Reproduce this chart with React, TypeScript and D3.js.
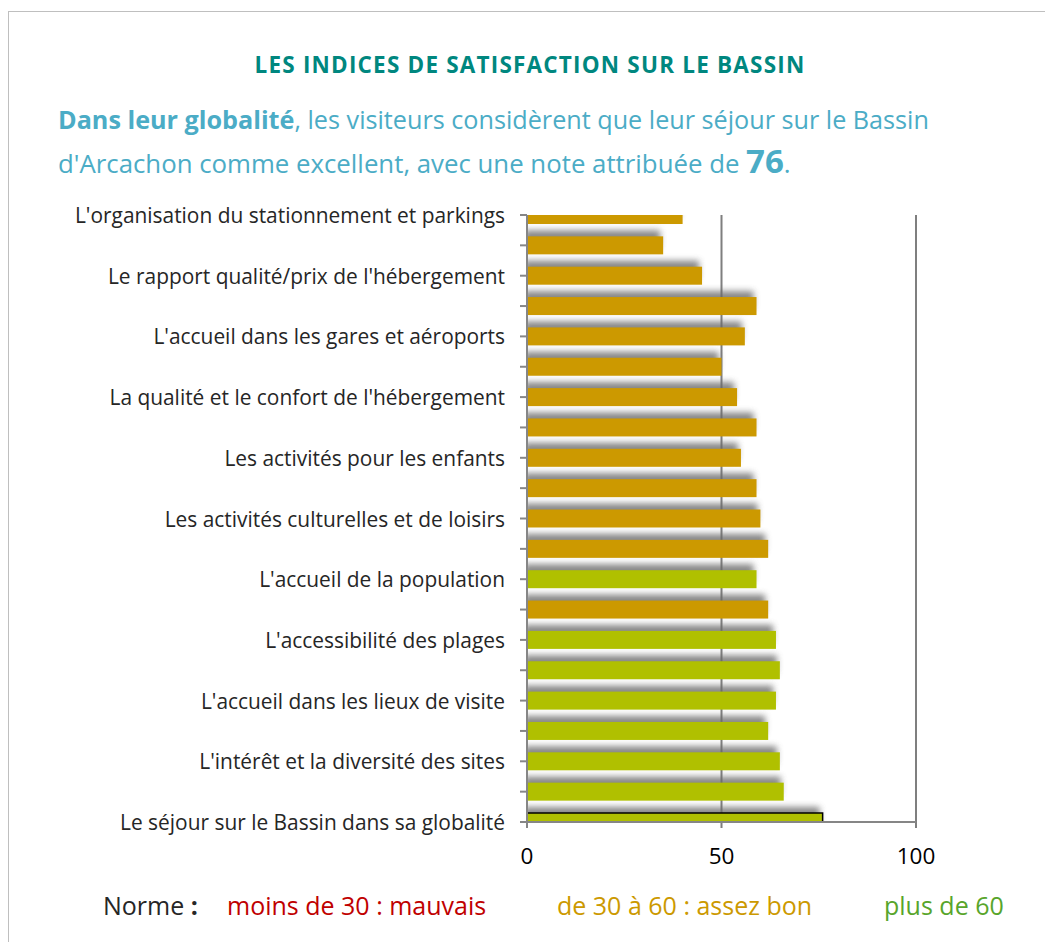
import React from "react";
import * as d3 from "d3";

const CATEGORIES = [
  "L'organisation du stationnement et parkings",
  "",
  "Le rapport qualité/prix de l'hébergement",
  "",
  "L'accueil dans les gares et aéroports",
  "",
  "La qualité et le confort de l'hébergement",
  "",
  "Les activités pour les enfants",
  "",
  "Les activités culturelles et de loisirs",
  "",
  "L'accueil de la population",
  "",
  "L'accessibilité des plages",
  "",
  "L'accueil dans les lieux de visite",
  "",
  "L'intérêt et la diversité des sites",
  "",
  "Le séjour sur le Bassin dans sa globalité",
];
const VALUES = [40, 35, 45, 59, 56, 50, 54, 59, 55, 59, 60, 62, 59, 62, 64, 65, 64, 62, 65, 66, 76];
const LEVELS = [
  "moyen", "moyen", "moyen", "moyen", "moyen", "moyen", "moyen", "moyen", "moyen", "moyen", "moyen", "moyen",
  "bon", "moyen", "bon", "bon", "bon", "bon", "bon", "bon", "bon",
];
const X_TICKS = [0, 50, 100];
const LEGEND = [
  { text: "moins de 30 : mauvais", level: "mauvais" },
  { text: "de 30 à 60 : assez bon", level: "moyen" },
  { text: "plus de 60", level: "bon" },
];

const BAR_COLORS: Record<string, string> = { moyen: "#CC9900", bon: "#B0C000" };
const LEGEND_COLORS: Record<string, string> = { mauvais: "#C00000", moyen: "#CC9900", bon: "#58A52B" };
const FONT = "'Open Sans', Lato, sans-serif";

export default function App() {
  const x = d3.scaleLinear().domain([0, 100]).range([527, 916]);
  const idx = CATEGORIES.map((_, i) => String(i));
  const y = d3.scalePoint<string>().domain(idx).range([215, 822]);
  const barH = 18;
  const top = 215;
  const bottom = 822;
  const legendX = [227, 557, 884];

  return (
    <svg
      width={1045}
      height={942}
      style={{ position: "absolute", left: 0, top: 0, display: "block" }}
      fontFamily={FONT}
    >
      <defs>
        <clipPath id="plotClip">
          <rect x={x(0)} y={top} width={x(100) - x(0) + 2} height={bottom - top} />
        </clipPath>
        <filter id="blur" x="-20%" y="-100%" width="140%" height="300%">
          <feGaussianBlur stdDeviation={3} />
        </filter>
      </defs>
      <rect x={8.5} y={11.5} width={1100} height={1000} fill="#fff" stroke="#BFBFBF" strokeWidth={1} />

      <text x={530} y={73} textAnchor="middle" fontSize={22.5} fontWeight="bold" letterSpacing={1.2} fill="#00877F">
        LES INDICES DE SATISFACTION SUR LE BASSIN
      </text>

      <text x={58} y={129} fontSize={25.2} fill="#4BACC6">
        <tspan fontWeight="bold">Dans leur globalité</tspan>
        <tspan>, les visiteurs considèrent que leur séjour sur le Bassin</tspan>
      </text>
      <text x={58} y={173} fontSize={25.8} fill="#4BACC6">
        <tspan>d'Arcachon comme excellent, avec une note attribuée de </tspan>
        <tspan fontWeight="bold" fontSize={33}>76</tspan>
        <tspan>.</tspan>
      </text>

      {/* gridlines */}
      {X_TICKS.filter((t) => t > 0).map((t) => (
        <line key={t} x1={x(t)} x2={x(t)} y1={top} y2={bottom + 6} stroke="#7F7F7F" strokeWidth={2} />
      ))}

      <g clipPath="url(#plotClip)">
        <g filter="url(#blur)" opacity={0.8}>
          {VALUES.map((v, i) => (
            <rect
              key={i}
              x={x(0) - 3}
              y={(y(String(i)) as number) - barH / 2 - 6}
              width={x(v) - x(0)}
              height={barH}
              fill="#6A6A6A"
            />
          ))}
        </g>
        {VALUES.map((v, i) => (
          <rect
            key={i}
            x={x(0)}
            y={(y(String(i)) as number) - barH / 2}
            width={x(v) - x(0)}
            height={barH}
            fill={BAR_COLORS[LEVELS[i]]}
            stroke={i === VALUES.length - 1 ? "#000" : "none"}
            strokeWidth={1.5}
          />
        ))}
      </g>

      {/* axes */}
      <line x1={x(0)} x2={x(0)} y1={top} y2={bottom + 6} stroke="#868686" strokeWidth={2} />
      <line x1={x(0) - 7} x2={x(100)} y1={bottom} y2={bottom} stroke="#868686" strokeWidth={2} />
      {idx.map((k) => (
        <line key={k} x1={x(0) - 7} x2={x(0)} y1={y(k)} y2={y(k)} stroke="#868686" strokeWidth={2} />
      ))}
      {CATEGORIES.map((c, i) =>
        c ? (
          <text
            key={i}
            x={505}
            y={(y(String(i)) as number) + 8}
            textAnchor="end"
            fontSize={20.9}
            fill="#262626"
          >
            {c}
          </text>
        ) : null
      )}
      {X_TICKS.map((t) => (
        <text key={t} x={x(t)} y={864} textAnchor="middle" fontSize={22.5} fill="#000">
          {t}
        </text>
      ))}

      {/* legend */}
      <text x={103} y={915} fontSize={25} fill="#262626">
        Norme<tspan fontWeight="bold"> :</tspan>
      </text>
      {LEGEND.map((l, i) => (
        <text key={l.text} x={legendX[i]} y={915} fontSize={25} fill={LEGEND_COLORS[l.level]}>
          {l.text}
        </text>
      ))}
    </svg>
  );
}
